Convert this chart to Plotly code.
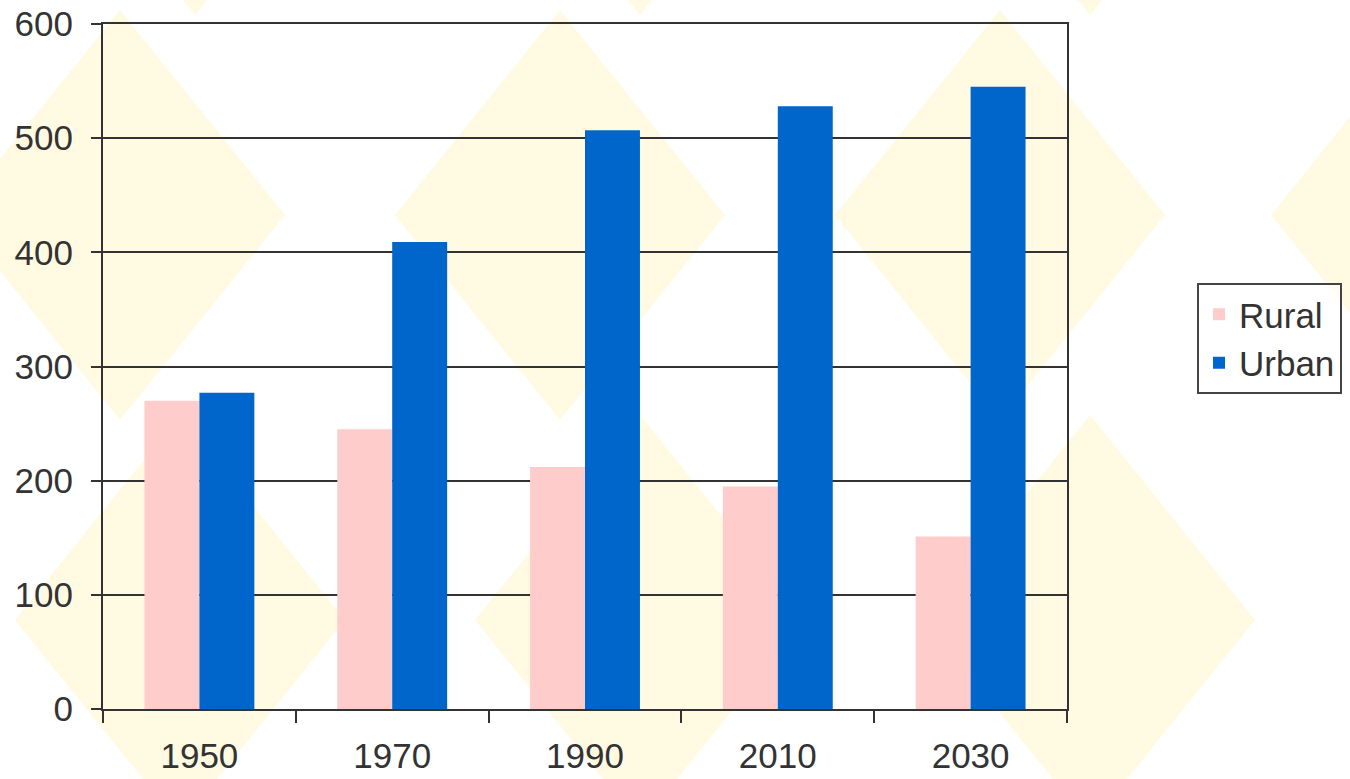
import plotly.graph_objects as go

years = ["1950", "1970", "1990", "2010", "2030"]
rural = [270, 245, 212, 195, 151]
urban = [277, 409, 507, 528, 545]

# page geometry (window pixels) of the plot area; body margin is removed below
OFF = 0
W, H = 1350 - OFF, 779 - OFF
L, R, T, B = 103 - OFF, 1067 - OFF, 24 - OFF, 709 - OFF

def px(x):
    return (x - OFF - L) / (R - L)

def py(y):
    return (B - (y - OFF)) / (B - T)

# faint yellow watermark diamonds (background decoration), window-pixel centres
wm_rows = [
    (215, [120, 560, 1000, 1436]),
    (1025, [120, 560, 1000, 1436]),
    (620, [180, 640, 1090, 1530]),
    (-190, [195, 640, 1090, 1530]),
]
hw, hh = 165, 205
shapes = []
for cy, xs in wm_rows:
    for cx in xs:
        path = (f"M {px(cx - hw)},{py(cy)} L {px(cx)},{py(cy - hh)} "
                f"L {px(cx + hw)},{py(cy)} L {px(cx)},{py(cy + hh)} Z")
        shapes.append(dict(type="path", path=path, xref="paper", yref="paper",
                           fillcolor="#FFF6C4", line=dict(width=0),
                           layer="below", opacity=0.5))

fig = go.Figure()
fig.add_trace(go.Bar(name="Rural", x=years, y=rural, marker=dict(color="#FFCCCC", line=dict(width=0))))
fig.add_trace(go.Bar(name="Urban", x=years, y=urban, marker=dict(color="#0066CC", line=dict(width=0))))

font_fam = "Liberation Sans, Arial, sans-serif"
fig.update_layout(
    width=W, height=H,
    margin=dict(l=L, r=W - R, t=T, b=H - B, pad=0, autoexpand=False),
    paper_bgcolor="white",
    plot_bgcolor="rgba(0,0,0,0)",
    barmode="group",
    bargap=0.43,
    bargroupgap=0,
    font=dict(family=font_fam, size=35, color="#333333"),
    shapes=shapes,
    legend=dict(
        x=px(1197), y=py(283), xanchor="left", yanchor="top",
        bordercolor="#444444", borderwidth=2, bgcolor="rgba(255,255,255,0.6)",
        font=dict(family=font_fam, size=35, color="#333333"),
        tracegroupgap=0,
    ),
    showlegend=True,
)
fig.update_xaxes(
    type="category", automargin=False,
    showline=True, mirror=True, linecolor="#333333", linewidth=2,
    ticks="outside", tickson="boundaries", ticklen=12, tickwidth=2, tickcolor="#333333",
    showgrid=False,
    tickfont=dict(size=35, color="#333333"),
    ticklabelstandoff=15,
    ticklabeloverflow="allow",
)
fig.update_yaxes(
    range=[0, 600], dtick=100, automargin=False,
    showline=True, mirror=True, linecolor="#333333", linewidth=2,
    ticks="outside", ticklen=10, tickwidth=2, tickcolor="#333333",
    showgrid=True, gridcolor="#333333", gridwidth=1.5,
    zeroline=False,
    tickfont=dict(size=35, color="#333333"),
    ticklabelstandoff=11,
    ticklabeloverflow="allow",
)

fig.write_html(
    "out.html",
    config={"displayModeBar": False},
    post_script="document.body.style.margin='0';document.body.style.overflow='hidden';",
)
